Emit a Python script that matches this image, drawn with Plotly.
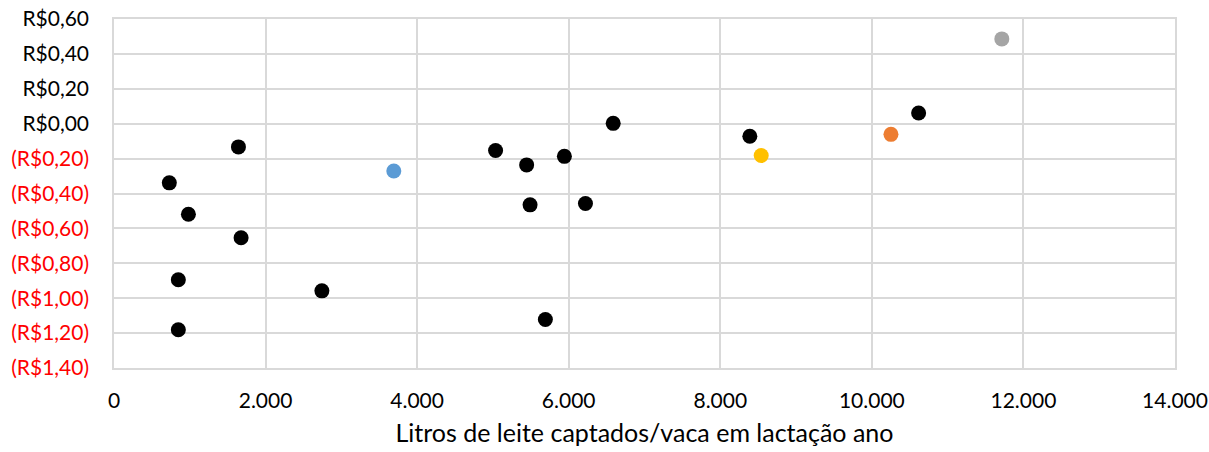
import plotly.graph_objects as go

# Black series (farms)
black_x = [5035, 5445, 5943, 6587, 5490, 6221, 5692, 8390, 10617, 1642, 730, 982, 1677, 849, 2743, 849]
black_y = [-0.154, -0.236, -0.187, 0.002, -0.465, -0.457, -1.122, -0.072, 0.061, -0.133, -0.339, -0.519, -0.654, -0.894, -0.958, -1.181]

# Highlighted points
hl_x = [3692, 8540, 10252, 11715]
hl_y = [-0.271, -0.182, -0.061, 0.486]
hl_colors = ["#5B9BD5", "#FFC000", "#ED7D31", "#A5A5A5"]

x_ticks = [0, 2000, 4000, 6000, 8000, 10000, 12000, 14000]
x_ticktext = ["0", "2.000", "4.000", "6.000", "8.000", "10.000", "12.000", "14.000"]
y_ticks = [0.6, 0.4, 0.2, 0.0, -0.2, -0.4, -0.6, -0.8, -1.0, -1.2, -1.4]


def fmt(v):
    s = f"R${abs(v):.2f}".replace(".", ",")
    if v < -1e-9:
        return f'<span style="color:#FF0000">({s})</span>'
    return s


y_ticktext = [fmt(v) for v in y_ticks]

fig = go.Figure()
fig.add_trace(go.Scatter(x=black_x, y=black_y, mode="markers",
                         marker=dict(color="#000000", size=15, line=dict(width=0)),
                         showlegend=False, cliponaxis=False))
fig.add_trace(go.Scatter(x=hl_x, y=hl_y, mode="markers",
                         marker=dict(color=hl_colors, size=15, line=dict(width=0)),
                         showlegend=False, cliponaxis=False))

font = "Lato, Carlito, 'Open Sans', sans-serif"
fig.update_layout(
    width=1209, height=452,
    margin=dict(l=114, r=34, t=19, b=84),
    paper_bgcolor="white", plot_bgcolor="white",
    font=dict(family=font, size=21, color="#000000"),
    showlegend=False,
    xaxis=dict(range=[0, 14000], tickvals=x_ticks, ticktext=x_ticktext,
               showgrid=True, gridcolor="#D9D9D9", gridwidth=1.5,
               showline=True, linecolor="#D9D9D9", linewidth=1.5, mirror=True,
               zeroline=False, ticks="outside", ticklen=13, tickcolor="rgba(0,0,0,0)",
               tickfont=dict(size=21), automargin=False, ticklabeloverflow="allow",
               title=dict(text="Litros de leite captados/vaca em lactação ano",
                          font=dict(size=25), standoff=14)),
    yaxis=dict(range=[-1.4, 0.6], tickvals=y_ticks, ticktext=y_ticktext,
               showgrid=True, gridcolor="#D9D9D9", gridwidth=1.5,
               showline=True, linecolor="#D9D9D9", linewidth=1.5, mirror=True,
               zeroline=False, ticks="outside", ticklen=19, tickcolor="rgba(0,0,0,0)",
               tickfont=dict(size=21), automargin=False, ticklabeloverflow="allow"),
)

fig.write_html("out.html",
               config={"displayModeBar": False},
               post_script="document.body.style.margin='0';document.body.style.overflow='hidden';")
